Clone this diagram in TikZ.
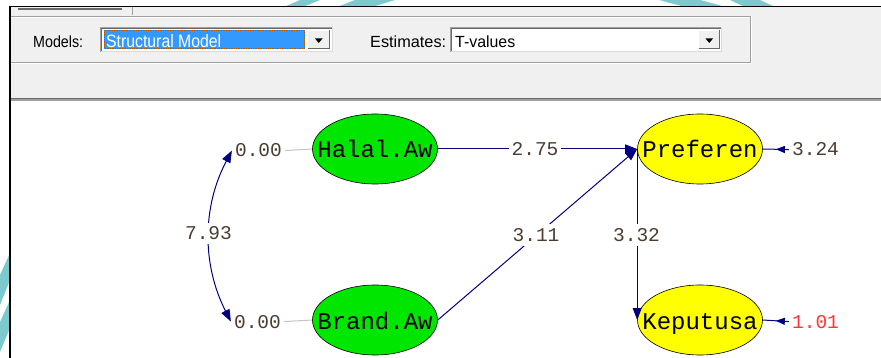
\documentclass[tikz,border=0pt]{standalone}
\usepackage{fontspec}
\usepackage{graphicx}
\newfontfamily\monof{Liberation Mono}
\newfontfamily\uif{Liberation Sans}
\usetikzlibrary{shapes.geometric,arrows.meta,decorations.markings}
\definecolor{navyc}{HTML}{000080}
\definecolor{lvgreen}{HTML}{00E600}
\definecolor{lvyellow}{HTML}{FFFF00}
\definecolor{numcol}{HTML}{4A3C30}
\definecolor{redcol}{HTML}{FF3333}
\definecolor{wingray}{HTML}{F0F0F0}
\definecolor{wmteal}{HTML}{7CC9CE}
\definecolor{selblue}{HTML}{3399FF}
\definecolor{edgegray}{HTML}{A0A0A0}
\definecolor{darkedge}{HTML}{696969}
\definecolor{lgray}{HTML}{C4C4C4}
\newcommand{\zw}[1]{\makebox[0pt]{#1}}
\begin{document}
\begin{tikzpicture}[x=1pt,y=-1pt,
  latent/.style={ellipse,draw=black,line width=0.6pt,minimum width=125pt,minimum height=70pt,
    inner sep=0pt,text height=19pt,text depth=1pt,font=\monof\fontsize{24}{24}\selectfont},
  num/.style={font=\monof\fontsize{19.5}{20}\selectfont,text=numcol,fill=white,inner xsep=3pt,inner ysep=4pt,anchor=base},
  conn/.style={navyc,line width=1pt},
  tipa/.tip={Triangle[length=12pt,width=9pt]},
  errconn/.style={conn,postaction={decorate},decoration={markings,
    mark=at position 0.5 with {\arrow{Triangle[length=9pt,width=7pt]}}}},
  uitext/.style={inner sep=0pt,anchor=south west},
  btn/.style={fill=wingray}
]
\useasboundingbox (0,0) rectangle (881,358);
% background and watermark fragments
\fill[white] (0,0) rectangle (881,358);
\fill[wmteal] (284,7) -- (300,0) -- (320,0) -- (303,7) -- cycle;
\fill[wmteal] (337,7) -- (355,0) -- (395,0) -- (372,7) -- cycle;
\fill[wmteal] (659,0) -- (700,0) -- (726,7) -- (685,7) -- cycle;
\fill[wmteal] (730,0) -- (760,0) -- (775,7) -- (745,7) -- cycle;
\fill[wmteal] (10,253) -- (10,280) -- (0,305) -- (0,275) -- cycle;
\fill[wmteal] (10,300) -- (10,328) -- (0,352) -- (0,322) -- cycle;
% window
\fill[wingray] (10,6.5) rectangle (881,99);
\draw[black,line width=1.5pt] (10,6.5) -- (881,6.5);
\draw[black,line width=1.5pt] (10,6.5) -- (10,358);
% tab remnant
\draw[darkedge,line width=2pt] (18,9.5) -- (122,9.5);
\draw[edgegray,line width=0.8pt] (132,7) -- (132,15);
% etched panel frame
\draw[edgegray,line width=0.8pt] (11,16.5) -- (750,16.5) -- (750,62.5) -- (11,62.5);
\draw[white,line width=0.8pt] (11,17.5) -- (749,17.5);
\draw[white,line width=0.8pt] (751,16) -- (751,63.5) -- (11,63.5);
% separator above diagram
\fill[edgegray] (11,98) rectangle (881,101);
\draw[darkedge,line width=0.8pt] (11,98.4) -- (881,98.4);
\fill[white] (11,101) rectangle (881,358);
% Models combo
\node[uitext] (lblmodels) at (33,48.3) {\resizebox{50pt}{11.7pt}{\uif Models:}};
\fill[white] (100,27) rectangle (333,52);
\draw[edgegray,line width=1pt] (100.5,52) -- (100.5,27.5) -- (333,27.5);
\draw[darkedge,line width=1pt] (101.5,51) -- (101.5,28.5) -- (332,28.5);
\draw[wingray!80!gray,line width=1pt] (101,51.5) -- (332.5,51.5) -- (332.5,27);
\fill[selblue] (104,30) rectangle (305,49);
\draw[orange!70!black,densely dotted,line width=0.7pt] (104.4,30.4) rectangle (304.6,48.6);
\node[uitext,text=white] (selmodel) at (106,47.7) {\resizebox{115pt}{13pt}{\uif Structural Model}};
\fill[btn] (307,30) rectangle (330,49);
\draw[white,line width=1pt] (307.5,49) -- (307.5,30.5) -- (330,30.5);
\draw[darkedge,line width=1pt] (307.5,48.5) -- (329.5,48.5) -- (329.5,30.5);
\fill[black] (315,38.5) -- (322.5,38.5) -- (318.75,43) -- cycle;
% Estimates combo
\node[uitext] (lblest) at (370,48.3) {\resizebox{76pt}{11.7pt}{\uif Estimates:}};
\fill[white] (450,27) rectangle (722,52);
\draw[edgegray,line width=1pt] (450.5,52) -- (450.5,27.5) -- (722,27.5);
\draw[darkedge,line width=1pt] (451.5,51) -- (451.5,28.5) -- (721,28.5);
\draw[wingray!80!gray,line width=1pt] (451,51.5) -- (721.5,51.5) -- (721.5,27);
\node[uitext] (selest) at (455,47.7) {\resizebox{60pt}{11.7pt}{\uif T-values}};
\fill[btn] (698,30) rectangle (720,49);
\draw[white,line width=1pt] (698.5,49) -- (698.5,30.5) -- (720,30.5);
\draw[darkedge,line width=1pt] (698.5,48.5) -- (719.5,48.5) -- (719.5,30.5);
\fill[black] (705.5,38.5) -- (713,38.5) -- (709.25,43) -- cycle;
% latent variables
\node[latent,fill=lvgreen] (halal) at (375,149) {\zw{Halal.Aw}};
\node[latent,fill=lvgreen] (brand) at (375,320) {\zw{Brand.Aw}};
\node[latent,fill=lvyellow] (pref) at (700,149) {\zw{Preferen}};
\node[latent,fill=lvyellow] (kep) at (700,320) {\zw{Keputusa}};
% variance labels
\node[num] (z1) at (258.5,157) {0.00};
\node[num] (z2) at (257.5,328) {0.00};
\draw[lgray,line width=1pt] (z1.east) -- (halal.west);
\draw[lgray,line width=1pt] (z2.east) -- (brand.west);
% structural paths
\draw[conn,-tipa] (halal.east) -- (pref.west);
\draw[conn,-tipa] (brand.east) -- (pref.west);
\draw[conn,-tipa] (pref.west) -- (kep.west);
\draw[conn,tipa-tipa] (z1.west) .. controls (202,207) and (202,265) .. (z2.west);
% path labels
\node[num] (l275) at (535,156) {2.75};
\node[num] (l311) at (536,241.5) {3.11};
\node[num] (l332) at (636.5,241.5) {3.32};
\node[num] (l793) at (208.5,240) {7.93};
% error terms
\node[num] (e1) at (815.5,156) {3.24};
\node[num,text=redcol] (e2) at (815.5,328) {1.01};
\draw[errconn] (e1.west) -- (pref.east);
\draw[errconn] (e2.west) -- (kep.east);
\end{tikzpicture}
\end{document}
